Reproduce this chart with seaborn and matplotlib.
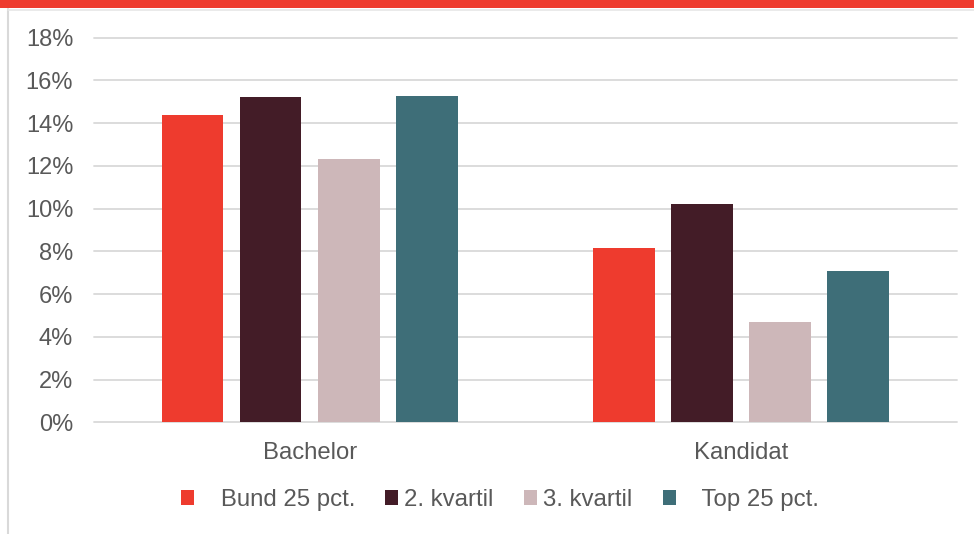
import matplotlib
matplotlib.use("Agg")
import matplotlib.pyplot as plt
from matplotlib.patches import Rectangle
from matplotlib.lines import Line2D
import seaborn as sns
import pandas as pd

categories = ["Bachelor", "Kandidat"]
series = ["Bund 25 pct.", "2. kvartil", "3. kvartil", "Top 25 pct."]
legend_labels = ["   Bund 25 pct.", "2. kvartil", "3. kvartil", "   Top 25 pct."]
bund = [14.38, 8.14]
kvartil2 = [15.22, 10.21]
kvartil3 = [12.32, 4.68]
top = [15.26, 7.08]
colors = ["#EE3B2E", "#431C27", "#CDB7B9", "#3E6E78"]
yticks = [0, 2, 4, 6, 8, 10, 12, 14, 16, 18]

rows = []
for s, vals in zip(series, [bund, kvartil2, kvartil3, top]):
    for c, v in zip(categories, vals):
        rows.append({"Uddannelse": c, "Gruppe": s, "Andel": v})
df = pd.DataFrame(rows)

sns.set_theme(style="white")
plt.rcParams["font.family"] = ["Liberation Sans", "DejaVu Sans"]

W, H = 974, 534
fig = plt.figure(figsize=(W / 100, H / 100), dpi=100)
ax = fig.add_axes([94 / W, (H - 422.3) / H, (956.7 - 94) / W, (422.3 - 37.7) / H])

sns.barplot(data=df, x="Uddannelse", y="Andel", hue="Gruppe", order=categories,
            hue_order=series, palette=colors, width=0.725, gap=0.21,
            linewidth=0, saturation=1, ax=ax, legend=True)

ax.set_ylim(0, 18)
ax.set_xlim(-0.5, 1.5)
ax.set_yticks(yticks)
ax.set_yticklabels([f"{t}%" for t in yticks])
ax.set_xlabel("")
ax.set_ylabel("")
for sp in ax.spines.values():
    sp.set_visible(False)
ax.set_axisbelow(True)
ax.yaxis.grid(True, color="#D9D9D9", linewidth=1.3)
ax.xaxis.grid(False)
for gl in ax.get_ygridlines():
    gl.set_clip_on(False)
ax.tick_params(axis="y", length=0, pad=15, labelsize=17.0, labelcolor="#595959")
ax.tick_params(axis="x", length=0, pad=14, labelsize=17.2, labelcolor="#595959")

handles, _ = ax.get_legend_handles_labels()
ax.get_legend().remove()
fig.legend(handles, legend_labels, loc="center", ncol=4,
           bbox_to_anchor=(500 / W, 1 - 500 / H), frameon=False,
           fontsize=17.3, labelcolor="#595959", handlelength=0.55,
           handleheight=0.55, handletextpad=0.26, columnspacing=1.25)

# decorative red band and light frame
fig.add_artist(Rectangle((0, 1 - 8 / H), 1, 8 / H, transform=fig.transFigure,
                         facecolor="#EE3B2E", edgecolor="none"))
fig.add_artist(Line2D([8 / W, 8 / W], [0, 1 - 9 / H], transform=fig.transFigure,
                      color="#D9D9D9", linewidth=1.5))
fig.add_artist(Line2D([8 / W, 1], [1 - 9.5 / H, 1 - 9.5 / H], transform=fig.transFigure,
                      color="#E6E6E6", linewidth=1.2))

fig.savefig("out.png", dpi=100)
